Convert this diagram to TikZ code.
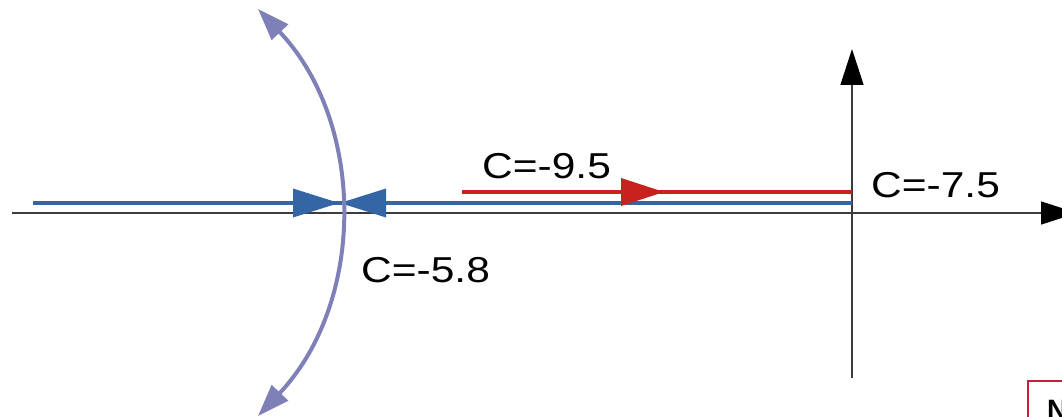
\documentclass[tikz,border=0pt]{standalone}
\usepackage{fontspec}
\setmainfont{Liberation Sans}
\usepackage{graphicx}
\usetikzlibrary{arrows.meta}
\definecolor{lblue}{RGB}{52,101,164}
\definecolor{lred}{RGB}{201,33,30}
\definecolor{lpurple}{RGB}{128,128,184}
\definecolor{boxred}{RGB}{200,30,60}
\definecolor{axisgray}{RGB}{60,60,60}
\begin{document}
\begin{tikzpicture}[x=1pt,y=-1pt,
  axis/.style={draw=axisgray, line width=1.5pt},
  axistip/.style={-{Triangle[length=36pt,width=23pt,color=black]}},
  blueline/.style={draw=lblue, line width=4pt},
  redline/.style={draw=lred, line width=4pt},
  arcline/.style={draw=lpurple, line width=4pt,
     {Triangle[length=32pt,width=22pt]}-{Triangle[length=32pt,width=22pt]}},
  lab/.style={inner sep=0pt, anchor=base west, font=\fontsize{36}{40}\selectfont}
]
\useasboundingbox (0,0) rectangle (1062,417);
\clip (0,0) rectangle (1062,417);
% axes
\coordinate (hstart) at (12,213);
\coordinate (hend) at (1077,213);
\coordinate (vstart) at (852,378);
\coordinate (vend) at (852,49);
\draw[axis, axistip] (hstart) -- (hend);
\draw[axis, axistip] (vstart) -- (vend);
% blue line and arrowheads
\coordinate (b0) at (33,203);
\coordinate (b1) at (852,203);
\draw[blueline] (b0) -- (b1);
\fill[lblue] (293,188.5) -- (339,203) -- (293,217.5) -- cycle;
\fill[lblue] (386,188.5) -- (340,203) -- (386,217.5) -- cycle;
% red line and arrowhead
\coordinate (r0) at (462,192);
\coordinate (r1) at (852,192);
\draw[redline] (r0) -- (r1);
\fill[lred] (621,178) -- (664,192) -- (621,206) -- cycle;
% purple arc
\coordinate (abot) at (258,416);
\coordinate (atop) at (258,9);
\draw[arcline] (abot) .. controls (366,302) and (366,123) .. (atop);
% labels
\node[lab] (c95) at (482,178) {\scalebox{1.18}[1]{C=-9.5}};
\node[lab] (c75) at (871,197) {\scalebox{1.18}[1]{C=-7.5}};
\node[lab] (c58) at (361,282) {\scalebox{1.18}[1]{C=-5.8}};
% partial box at bottom right
\draw[boxred, line width=1.5pt] (1028,381) rectangle (1120,470);
\node[inner sep=0pt, anchor=base west, font=\bfseries\fontsize{28}{30}\selectfont] (nlbl) at (1047,419) {N};
\end{tikzpicture}
\end{document}
